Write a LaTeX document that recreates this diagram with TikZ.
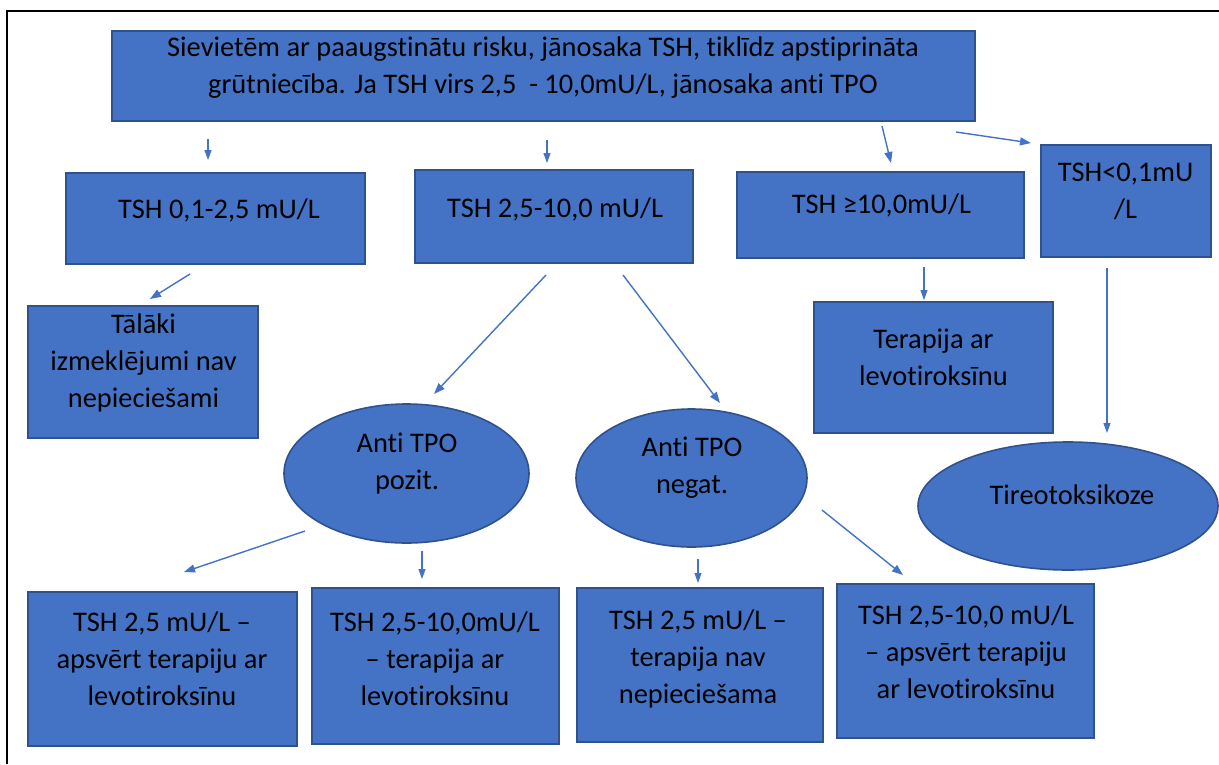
\documentclass[tikz,border=0pt]{standalone}
\usepackage{fontspec}
\setmainfont{Carlito}[Ligatures={TeX,NoCommon}]
\usetikzlibrary{arrows.meta,calc,shapes.geometric}
\definecolor{boxfill}{HTML}{4472C4}
\definecolor{boxline}{HTML}{2F528F}
\definecolor{arrowblue}{HTML}{4472C4}

\begin{document}
\begin{tikzpicture}[x=1pt,y=-1pt,
  panel/.style={draw=boxline, fill=boxfill, line width=1.6pt, inner sep=0pt, outer sep=0pt},
  oval/.style={panel, ellipse},
  txt/.style={align=center, inner sep=0pt, font=\fontsize{28.4}{37}\selectfont, text=black},
  arr/.style={draw=arrowblue, line width=1.4pt, -{Triangle[length=11pt,width=8pt]}},
  thinarr/.style={draw=arrowblue, line width=1.1pt, -{Triangle[length=10pt,width=7pt]}},
]
\useasboundingbox (0,0) rectangle (1219,764);
\fill[white] (0,0) rectangle (1219,764);

% page frame (top and left edges)
\draw[line width=2.5pt] (1219,11) -- (7,11) -- (7,764);

% boxes and ovals
\node[panel, minimum width=863pt, minimum height=90pt] (top) at (543.5,76) {};
\node[panel, minimum width=299pt, minimum height=91pt] (A) at (215.5,218.5) {};
\node[panel, minimum width=278pt, minimum height=93pt] (B) at (554,216.5) {};
\node[panel, minimum width=287pt, minimum height=86pt] (C) at (880.5,215) {};
\node[panel, minimum width=170pt, minimum height=112pt] (D) at (1126,201) {};
\node[panel, minimum width=230pt, minimum height=132pt] (E) at (143,372) {};
\node[panel, minimum width=239pt, minimum height=131pt] (F) at (933.5,367.5) {};
\node[oval, minimum width=245pt, minimum height=139pt] (P) at (406.5,473.5) {};
\node[oval, minimum width=231pt, minimum height=138pt] (N) at (691.5,478) {};
\node[oval, minimum width=300pt, minimum height=128pt] (T) at (1068,506) {};
\node[panel, minimum width=269pt, minimum height=154pt] (G) at (162.5,669) {};
\node[panel, minimum width=247pt, minimum height=156pt] (H) at (435.5,666) {};
\node[panel, minimum width=246pt, minimum height=154pt] (I) at (700,665) {};
\node[panel, minimum width=257pt, minimum height=154pt] (J) at (965.5,661) {};

% texts
\node[txt] (topT) at (543,67.5) {Sievietēm ar paaugstinātu risku, jānosaka TSH, tiklīdz apstiprināta\\grūtniecība. Ja TSH virs 2,5 \ - 10,0mU/L, jānosaka anti TPO};
\node[txt] (AT) at (219,210) {TSH 0,1-2,5 mU/L};
\node[txt] (BT) at (555,209) {TSH 2,5-10,0 mU/L};
\node[txt] (CT) at (881.5,205) {TSH ≥10,0mU/L};
\node[txt] (DT) at (1125.5,191.5) {TSH<0,1mU\\/L};
\node[txt] (ET) at (143.5,362.5) {Tālāki\\izmeklējumi nav\\nepiecie\v{s}ami};
\node[txt] (FT) at (933.5,357) {Terapija ar\\levotiroksīnu};
\node[txt] (PT) at (407,464) {Anti TPO\\pozit.};
\node[txt] (NT) at (692,467.5) {Anti TPO\\negat.};
\node[txt] (TT) at (1072,495) {Tireotoksikoze};
\node[txt] (GT) at (162,658.5) {TSH 2,5 mU/L –\\apsvērt terapiju ar\\levotiroksīnu};
\node[txt] (HT) at (435,658.5) {TSH 2,5-10,0mU/L\\– terapija ar\\levotiroksīnu};
\node[txt] (IT) at (698,658.5) {TSH 2,5 mU/L –\\terapija nav\\nepiecie\v{s}ama};
\node[txt] (JT) at (966,651.5) {TSH 2,5-10,0 mU/L\\– apsvērt terapiju\\ar levotiroksīnu};

% connectors
\draw[thinarr] ($(top.south)+(-335.5,18)$) -- ($(A.north)+(-7.5,-13)$);
\draw[thinarr] ($(top.south)+(3.5,19)$) -- ($(B.north)+(-7,-7)$);
\draw[arr] ($(top.south)+(338.5,5)$) -- ($(C.north)+(10.5,-9)$);
\draw[arr] ($(top.south east)+(-19,11)$) -- ($(D.north west)+(-10,-2)$);
\draw[arr] ($(A.south)+(-25.5,10)$) -- ($(E.north)+(7,-7)$);
\draw[arr] ($(B.south)+(-8,12)$) -- ($(P.north)+(27.5,-10)$);
\draw[arr] ($(B.south)+(69,12)$) -- ($(N.north)+(28.5,-6)$);
\draw[thinarr] ($(C.south)+(43.5,9)$) -- ($(F.north)+(-9.5,-2)$);
\draw[thinarr] ($(D.south)+(-19,11)$) -- ($(T.north)+(39,-9)$);
\draw[arr] ($(P.center)+(-101.5,57.5)$) -- ($(G.north)+(21.5,-20)$);
\draw[thinarr] ($(P.south)+(15.5,8)$) -- ($(H.north)+(-13.5,-9)$);
\draw[thinarr] ($(N.south)+(6.5,12)$) -- ($(I.north)+(-2,-5)$);
\draw[arr] ($(N.center)+(130.5,32)$) -- ($(J.north west)+(66,-9)$);
\end{tikzpicture}
\end{document}
